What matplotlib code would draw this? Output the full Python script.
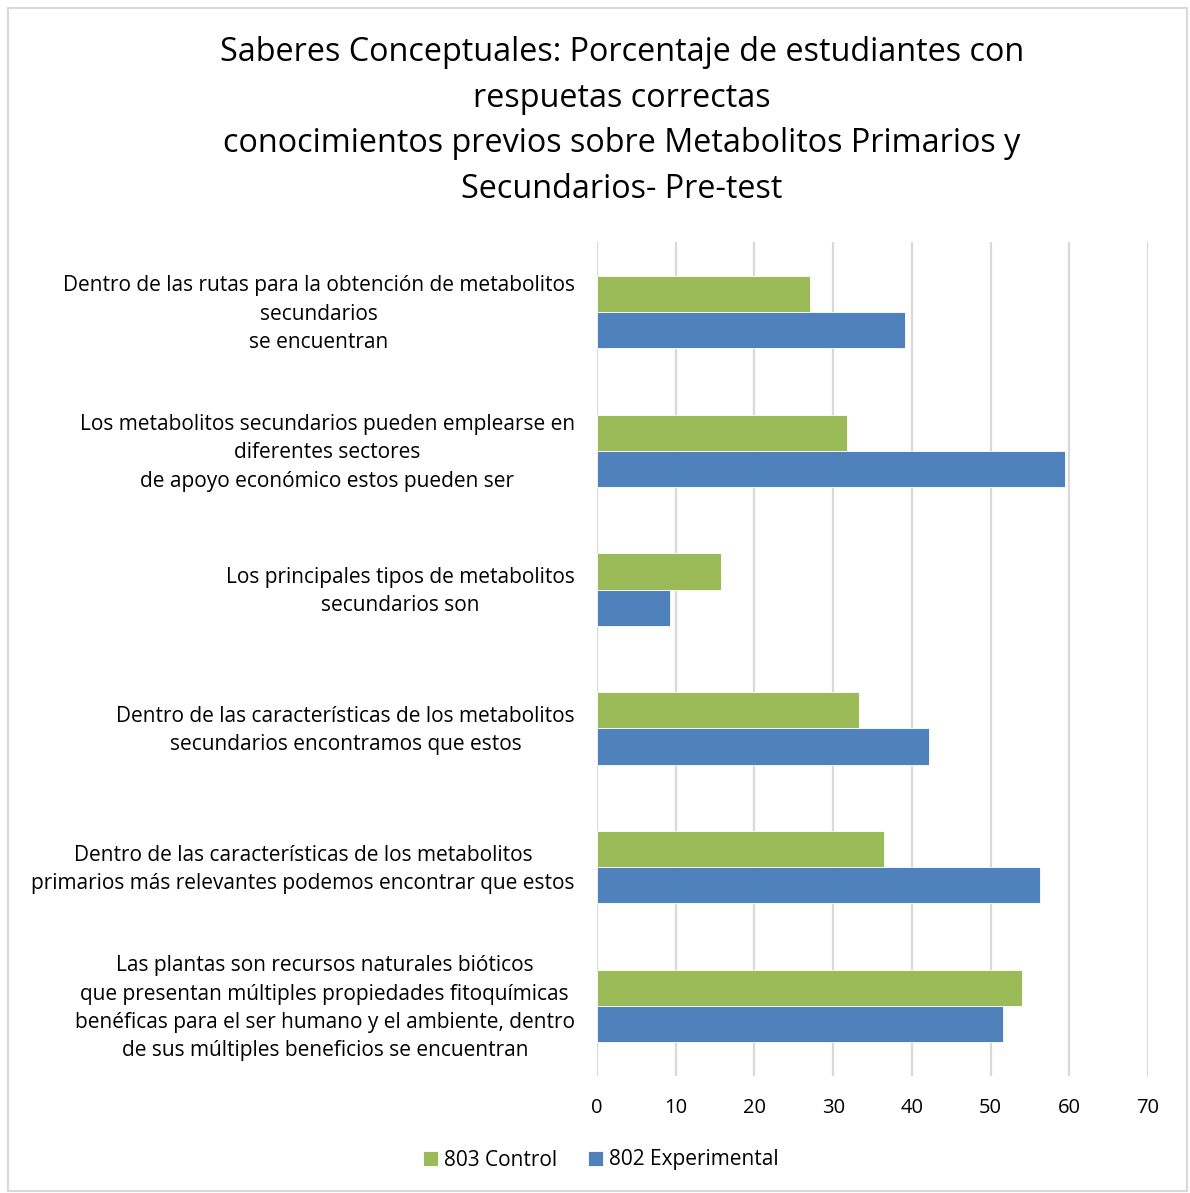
import numpy as np
import matplotlib
matplotlib.use("Agg")
import matplotlib.pyplot as plt
import matplotlib.transforms as mtransforms
from matplotlib.patches import Rectangle

plt.rcParams["font.family"] = ["Open Sans", "DejaVu Sans"]

# ----------------------------
# Data
# ----------------------------
CATEGORIES = [
    "Dentro de las rutas para la obtención de metabolitos\nsecundarios\nse encuentran",
    "Los metabolitos secundarios pueden emplearse en\ndiferentes sectores\nde apoyo económico estos pueden ser",
    "Los principales tipos de metabolitos\nsecundarios son",
    "Dentro de las características de los metabolitos\nsecundarios encontramos que estos",
    "Dentro de las características de los metabolitos\nprimarios más relevantes podemos encontrar que estos",
    "Las plantas son recursos naturales bióticos\nque presentan múltiples propiedades fitoquímicas\n"
    "benéficas para el ser humano y el ambiente, dentro\nde sus múltiples beneficios se encuentran",
]
CONTROL_803 = [27.0, 31.7, 15.8, 33.3, 36.5, 54.0]
EXPERIMENTAL_802 = [39.1, 59.4, 9.3, 42.2, 56.3, 51.6]
XTICKS = [0, 10, 20, 30, 40, 50, 60, 70]

TITLE = ("Saberes Conceptuales: Porcentaje de estudiantes con\nrespuetas correctas\n"
         "conocimientos previos sobre Metabolitos Primarios y\nSecundarios- Pre-test")

GREEN = "#9BBB59"
BLUE = "#4F81BD"
GRID = "#D9D9D9"

W, H = 1190, 1193
fig = plt.figure(figsize=(W / 100, H / 100), dpi=100)
ax = fig.add_axes([597 / W, 1 - 1075.5 / H, (1148 - 597) / W, (1075.5 - 242.5) / H])

y = np.arange(len(CATEGORIES))
h = 0.26
ax.barh(y - h / 2, CONTROL_803, height=h, color=GREEN, edgecolor="white",
        linewidth=0.6, label="803 Control", zorder=3)
ax.barh(y + h / 2, EXPERIMENTAL_802, height=h, color=BLUE, edgecolor="white",
        linewidth=0.6, label="802 Experimental", zorder=3)

ax.set_xlim(0, 70)
ax.set_ylim(len(CATEGORIES) - 0.5, -0.5)
ax.set_xticks(XTICKS)
ax.set_yticks(y)
ax.set_yticklabels(CATEGORIES, fontsize=15, multialignment="center",
                   linespacing=1.45, color="#000000")
ax.tick_params(axis="both", length=0)
ax.tick_params(axis="y", pad=16)
ax.tick_params(axis="x", pad=16, labelsize=14.5)
ax.grid(axis="x", color=GRID, linewidth=1.6, zorder=0)
for s in ax.spines.values():
    s.set_visible(False)

# nudge category labels up a few pixels
shift = mtransforms.ScaledTranslation(0, 4 / 100, fig.dpi_scale_trans)
for lbl in ax.get_yticklabels():
    lbl.set_transform(lbl.get_transform() + shift)

fig.text(622 / W, 1 - 121 / H, TITLE, ha="center", va="center",
         fontsize=23.3, linespacing=1.5)

fig.legend(loc="center", bbox_to_anchor=(601 / W, 1 - 1160 / H), ncol=2,
           frameon=False, fontsize=15, handlelength=0.7, handleheight=0.7,
           handletextpad=0.3, columnspacing=1.5)

fig.patches.append(Rectangle((8 / W, 2 / H), (1187 - 8) / W, (1185 - 2) / H,
                             transform=fig.transFigure, fill=False,
                             edgecolor=GRID, linewidth=1.5))

fig.savefig("out.png", dpi=100, facecolor="white")
